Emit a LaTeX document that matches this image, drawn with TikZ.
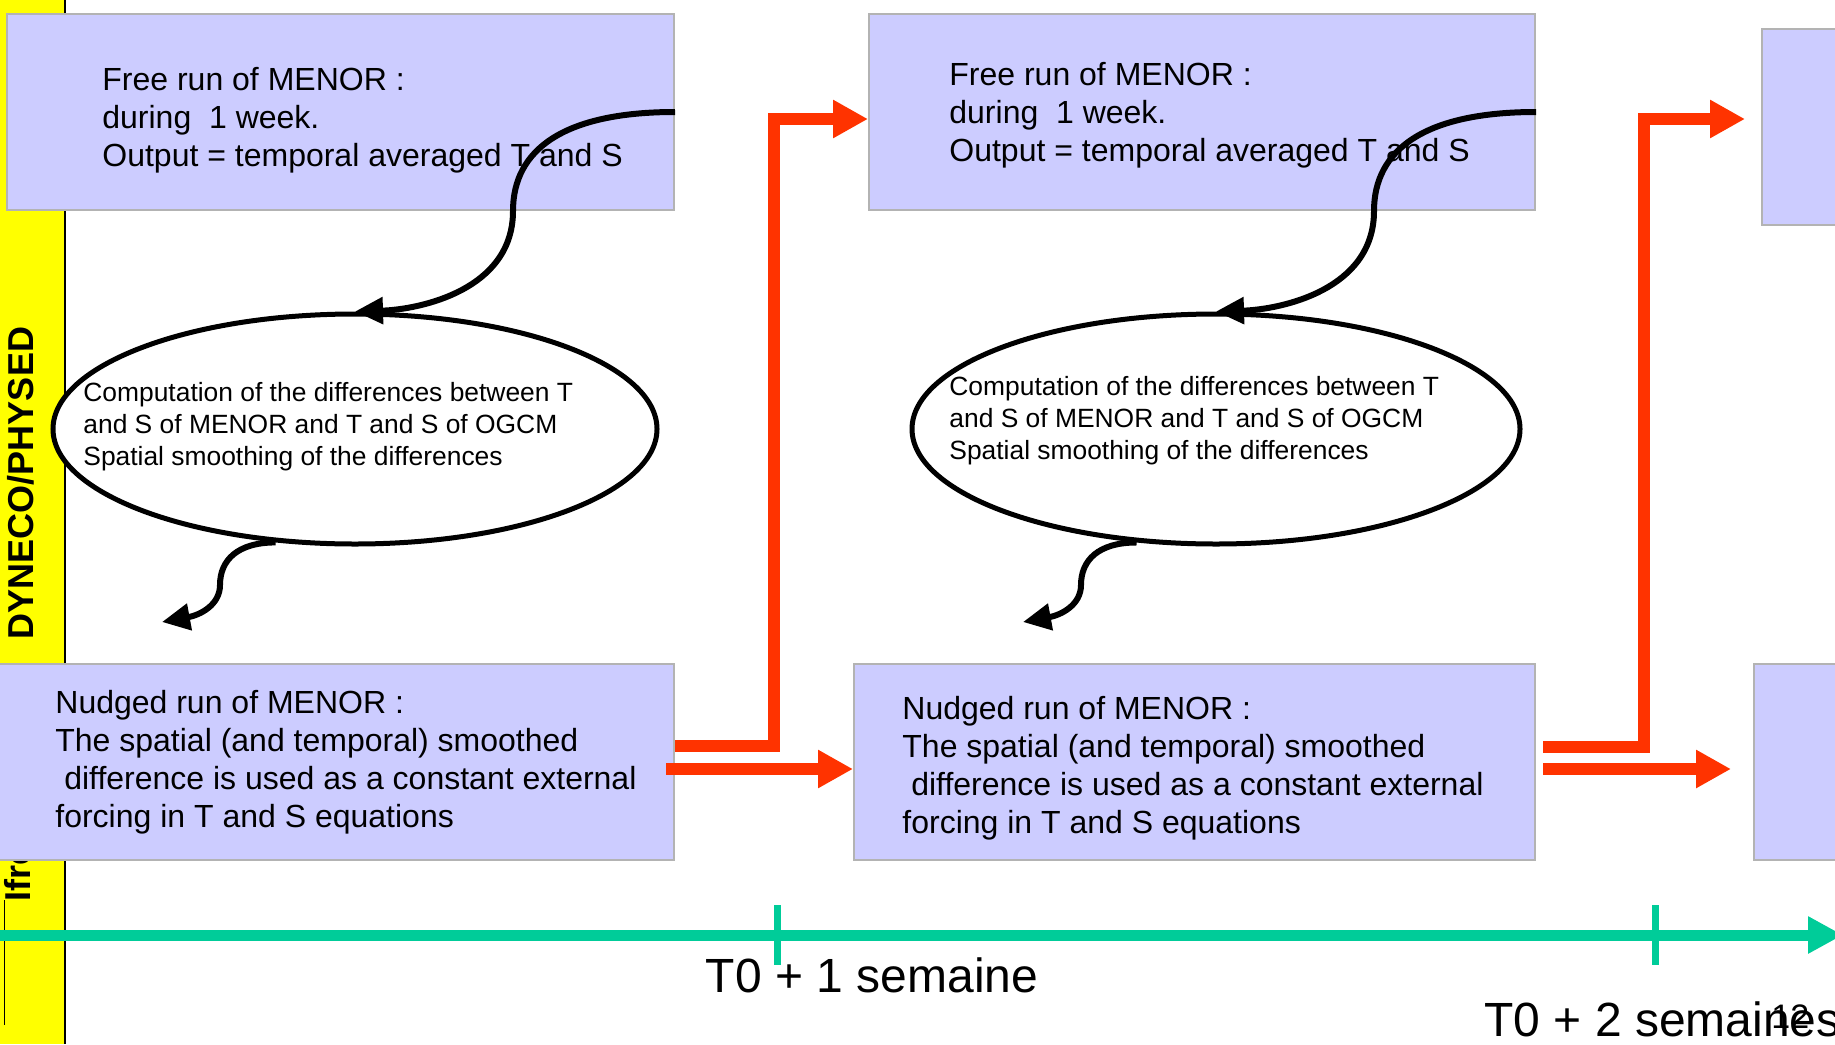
\documentclass[tikz,border=0pt]{standalone}
\usepackage{fontspec}
\setmainfont{Liberation Sans}
\usetikzlibrary{arrows.meta,shapes.geometric}
\definecolor{boxfill}{RGB}{204,204,255}
\definecolor{boxline}{RGB}{179,179,179}
\definecolor{nudge}{RGB}{255,51,0}
\definecolor{timeline}{RGB}{0,204,153}
\definecolor{barfill}{RGB}{255,255,0}
\begin{document}
\begin{tikzpicture}[x=0.5pt,y=-0.5pt,
  run/.style={draw=boxline,line width=1pt,fill=boxfill,anchor=north west,inner sep=0pt,minimum height=98pt},
  diff/.style={ellipse,draw,line width=2.5pt,fill=white,inner sep=0pt,minimum width=302pt,minimum height=115pt},
  bigtxt/.style={anchor=north west,align=left,inner sep=0pt,font=\fontsize{16}{19}\selectfont},
  smalltxt/.style={anchor=north west,align=left,inner sep=0pt,font=\fontsize{13.2}{16}\selectfont},
  feedback/.style={line width=3pt,-{Triangle[length=14pt,width=13pt]}},
  nudgearrow/.style={nudge,line width=6pt,line join=miter,-{Triangle[length=17.5pt,width=18pt]}},
  tick/.style={timeline,line width=3.5pt}]
   \useasboundingbox (0,0) rectangle (1835,1044);
   \fill[white] (0,0) rectangle (1835,1044);
   %yellow band
   \fill[barfill] (0,0) rectangle (64,1044);
   \node[rotate=90,anchor=base west,inner sep=0pt,font=\bfseries\fontsize{18}{18}\selectfont] (logo) at (31,902) {Ifremer};
   \draw[line width=0.5pt] (4,900) -- (4,1025);
   \draw[line width=1.2pt] (65,0) -- (65,1044);
   \node[rotate=90,anchor=base,inner sep=0pt,font=\bfseries\fontsize{18}{18}\selectfont] (team) at (33,483) {DYNECO/PHYSED};
   %free runs
   \node[run,minimum width=333.5pt] (free1) at (6,13) {};
   \node[run,minimum width=333pt] (free2) at (868,13) {};
   \node[run,minimum width=333.5pt] (free3) at (1761,28) {};
   \node[bigtxt] (free1txt) at (102,67) {Free run of MENOR :\\during\ \ 1 week.\\Output = temporal averaged T and S};
   \node[bigtxt] (free2txt) at (949,62) {Free run of MENOR :\\during\ \ 1 week.\\Output = temporal averaged T and S};
   %nudged runs
   \node[run,minimum width=341pt] (nudged1) at (-9,663) {};
   \node[run,minimum width=340.5pt] (nudged2) at (853,663) {};
   \node[run,minimum width=340.5pt] (nudged3) at (1753,663) {};
   \node[bigtxt] (nudged1txt) at (55,690) {Nudged run of MENOR :\\The spatial (and temporal) smoothed\\\ difference is used as a constant external\\forcing in T and S equations};
   \node[bigtxt] (nudged2txt) at (902,696) {Nudged run of MENOR :\\The spatial (and temporal) smoothed\\\ difference is used as a constant external\\forcing in T and S equations};
   %differences
   \node[diff] (diff1) at (355,429) {};
   \node[diff,minimum width=304pt] (diff2) at (1216,429) {};
   \node[smalltxt] (diff1txt) at (83,382) {Computation of the differences between T\\and S of MENOR and T and S of OGCM\\Spatial smoothing of the differences};
   \node[smalltxt] (diff2txt) at (949,376) {Computation of the differences between T\\and S of MENOR and T and S of OGCM\\Spatial smoothing of the differences};
   %black arrows
   \coordinate (back1) at (162,622);
   \coordinate (back2) at (1023,622);
   \draw[feedback] (free1.east) .. controls +(-112,0) and +(0,-61) .. (513,211) .. controls +(0,79) and +(65,-2) .. (diff1.north);
   \draw[feedback] (free2.east) .. controls +(-112,0) and +(0,-61) .. (1374,211) .. controls +(0,79) and +(65,-2) .. (diff2.north);
   \draw[feedback] (diff1.235) .. controls +(-38,0) and +(0,-25) .. (220,585) .. controls +(0,20) and +(38,-7) .. (back1);
   \draw[feedback] (diff2.235) .. controls +(-38,0) and +(0,-25) .. (1081,585) .. controls +(0,20) and +(38,-7) .. (back2);
   %red arrows
   \coordinate (out1) at (666,769);
   \coordinate (out2a) at (1543,747);
   \coordinate (out2b) at (1543,769);
   \coordinate (in3a) at (1745,119);
   \coordinate (in3b) at (1731,769);
   \draw[nudgearrow] (nudged1.east |- 0,746) -- (774,746) -- (774,119) -- (free2.west |- 0,119);
   \draw[nudgearrow] (out1) -- (nudged2.west |- out1);
   \draw[nudgearrow] (out2a) -- (1644,747) -- (1644,119) -- (in3a);
   \draw[nudgearrow] (out2b) -- (in3b);
   %time axis
   \coordinate (t0) at (-5,935);
   \coordinate (tend) at (1843,935);
   \draw[timeline,line width=5.5pt,-{Triangle[length=17.5pt,width=17.5pt]}] (t0) -- (tend);
   \draw[tick] (777,905) -- (777,965);
   \draw[tick] (1655,905) -- (1655,965);
   \node[anchor=base,inner sep=0pt,font=\fontsize{24}{24}\selectfont] (week1) at (872,992) {T0 + 1 semaine};
   \node[anchor=base west,inner sep=0pt,font=\fontsize{24}{24}\selectfont] (week2) at (1484,1036) {T0 + 2 semaines};
   \node[anchor=base west,inner sep=0pt,font=\fontsize{17}{17}\selectfont] (page) at (1771,1028) {12};
\end{tikzpicture}
\end{document}
